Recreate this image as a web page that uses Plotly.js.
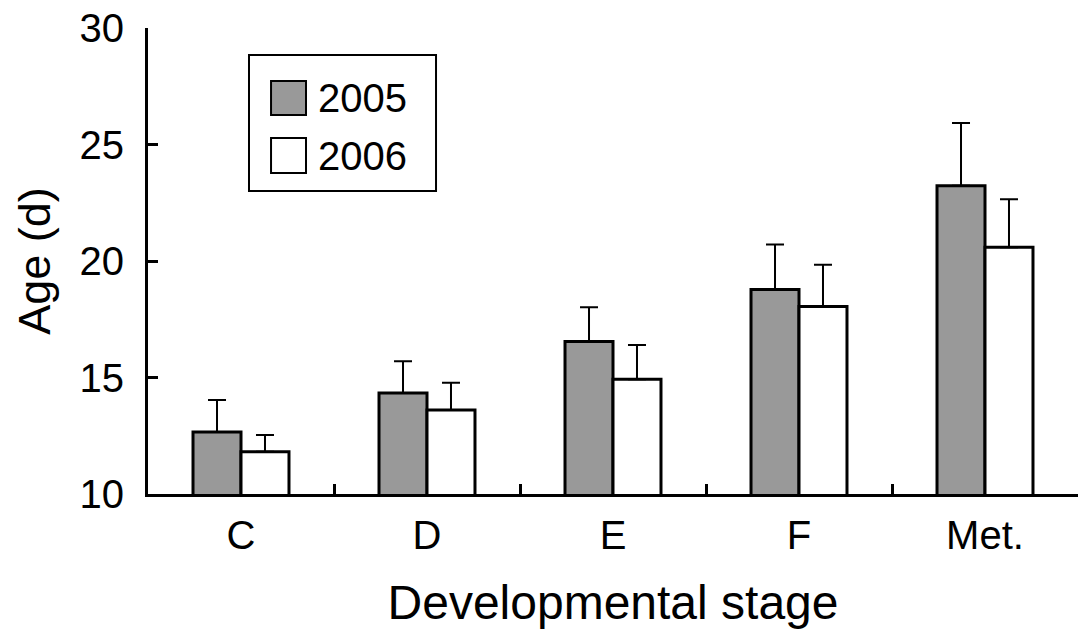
<!DOCTYPE html>
<html>
<head>
<meta charset="utf-8">
<script src="https://cdn.plot.ly/plotly-3.0.1.min.js"></script>
<style>
html,body{margin:0;padding:0;background:#fff;}
#chart{width:1084px;height:639px;}
</style>
</head>
<body>
<div id="chart"></div>
<script>
const stages = ["C", "D", "E", "F", "Met."];
const seriesNames = ["2005", "2006"];
const age2005 = [12.66, 14.34, 16.55, 18.78, 23.23];
const err2005 = [1.37, 1.36, 1.47, 1.93, 2.69];
const age2006 = [11.81, 13.61, 14.93, 18.05, 20.59];
const err2006 = [0.72, 1.17, 1.46, 1.79, 2.06];
const noLowerErr = [0, 0, 0, 0, 0];
const yTicks = [10, 15, 20, 25, 30];

const FONT = "Liberation Sans, Arial, Helvetica, sans-serif";
const colors = ["#999999", "#ffffff"];

function barTrace(name, y, err, color) {
  return {
    type: "bar",
    name: name,
    x: stages,
    y: y,
    base: 0,
    marker: {color: color, line: {color: "#000", width: 3}},
    error_y: {
      type: "data", symmetric: false, array: err, arrayminus: noLowerErr,
      color: "#000", thickness: 2, width: 9, visible: true
    },
    showlegend: false,
    hoverinfo: "x+y"
  };
}

const data = [
  barTrace(seriesNames[0], age2005, err2005, colors[0]),
  barTrace(seriesNames[1], age2006, err2006, colors[1])
];

// custom legend (paper coords)
const legendShapes = [
  {type: "rect", xref: "paper", yref: "paper", x0: 0.1086, x1: 0.3097, y0: 0.650, y1: 0.942,
   line: {color: "#000", width: 2}, fillcolor: "rgba(0,0,0,0)"},
  {type: "rect", xref: "paper", yref: "paper", x0: 0.1323, x1: 0.1699, y0: 0.8133, y1: 0.8863,
   line: {color: "#000", width: 2}, fillcolor: colors[0]},
  {type: "rect", xref: "paper", yref: "paper", x0: 0.1323, x1: 0.1699, y0: 0.6888, y1: 0.7639,
   line: {color: "#000", width: 2}, fillcolor: colors[1]}
];
const legendAnn = [
  {xref: "paper", yref: "paper", x: 0.1810, y: 0.8498, xanchor: "left", yanchor: "middle",
   text: seriesNames[0], showarrow: false, font: {family: FONT, size: 40, color: "#000"}},
  {xref: "paper", yref: "paper", x: 0.1810, y: 0.7253, xanchor: "left", yanchor: "middle",
   text: seriesNames[1], showarrow: false, font: {family: FONT, size: 40, color: "#000"}}
];

const layout = {
  width: 1084, height: 639,
  margin: {l: 148, r: 6, t: 28, b: 145},
  paper_bgcolor: "#fff", plot_bgcolor: "#fff",
  font: {family: FONT, color: "#000"},
  barmode: "group",
  bargap: 0.484,
  bargroupgap: 0,
  xaxis: {
    type: "category",
    range: [-0.5, 4.5],
    showline: true, linecolor: "#000", linewidth: 3,
    showgrid: false, zeroline: false,
    ticks: "inside", tickson: "boundaries", ticklen: 10, tickwidth: 3, tickcolor: "#000",
    tickfont: {family: FONT, size: 40, color: "#000"},
    ticklabelstandoff: 4,
    title: {text: "Developmental stage", font: {family: FONT, size: 48, color: "#000"}, standoff: 30},
    automargin: false,
    fixedrange: true
  },
  yaxis: {
    range: [10, 30],
    tickvals: yTicks,
    ticktext: yTicks.map(String),
    showline: true, linecolor: "#000", linewidth: 3,
    showgrid: false, zeroline: false,
    ticks: "inside", ticklen: 10, tickwidth: 3, tickcolor: "#000",
    tickfont: {family: FONT, size: 40, color: "#000"},
    ticklabelstandoff: 13,
    title: {text: "Age (d)", font: {family: FONT, size: 45, color: "#000"}, standoff: 15},
    automargin: false,
    fixedrange: true
  },
  shapes: legendShapes,
  annotations: legendAnn,
  showlegend: false
};

Plotly.newPlot("chart", data, layout, {displayModeBar: false, staticPlot: true});
</script>
</body>
</html>
